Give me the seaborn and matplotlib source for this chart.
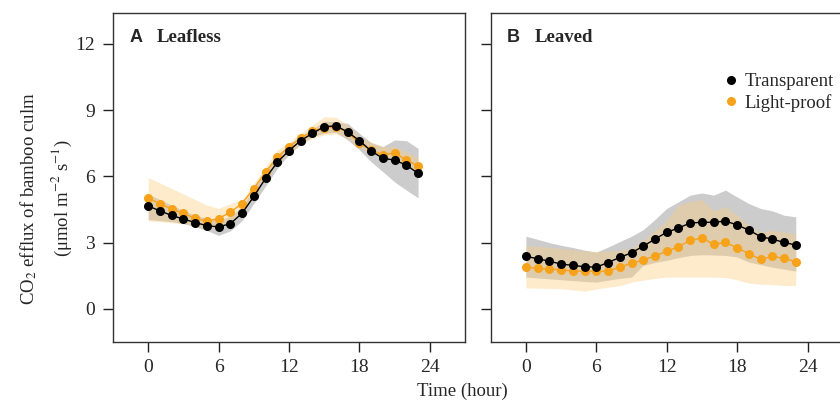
import numpy as np
import pandas as pd
import matplotlib
matplotlib.use("Agg")
import matplotlib.pyplot as plt
import seaborn as sns
from matplotlib.lines import Line2D

sns.set_style("ticks")
plt.rcParams['font.family'] = ['Liberation Serif', 'DejaVu Serif']
plt.rcParams['mathtext.fontset'] = 'stix'

hours = list(range(24))

# Panel A: Leafless
a_trans = [4.66, 4.44, 4.23, 4.07, 3.91, 3.77, 3.71, 3.86, 4.33, 5.09, 5.91, 6.64,
           7.17, 7.62, 7.95, 8.25, 8.29, 8.01, 7.62, 7.15, 6.82, 6.74, 6.51, 6.14]
a_trans_lo = [4.05, 4.00, 3.95, 3.86, 3.72, 3.55, 3.33, 3.53, 4.00, 4.77, 5.56, 6.36,
              7.00, 7.45, 7.80, 7.95, 8.00, 7.65, 7.20, 6.66, 6.21, 5.75, 5.38, 5.03]
a_trans_hi = [5.20, 4.95, 4.70, 4.45, 4.25, 4.10, 4.00, 4.20, 4.60, 5.50, 6.30, 6.97,
              7.45, 7.85, 8.15, 8.50, 8.48, 8.40, 7.95, 7.53, 7.35, 7.65, 7.62, 7.27]
a_proof = [5.03, 4.75, 4.53, 4.32, 4.10, 3.98, 4.09, 4.38, 4.77, 5.45, 6.20, 6.86,
           7.35, 7.73, 8.06, 8.20, 8.25, 8.00, 7.50, 7.20, 6.97, 7.07, 6.74, 6.47]
a_proof_lo = [3.98, 3.95, 3.90, 3.85, 3.78, 3.60, 3.75, 3.85, 4.35, 5.20, 5.90, 6.60,
              7.05, 7.50, 7.73, 7.88, 7.92, 7.73, 7.28, 7.05, 6.90, 6.80, 6.50, 6.20]
a_proof_hi = [5.95, 5.70, 5.45, 5.20, 4.95, 4.70, 4.55, 4.77, 4.95, 5.68, 6.44, 7.20,
              7.55, 7.95, 8.33, 8.70, 8.68, 8.33, 7.80, 7.55, 7.35, 7.35, 7.10, 6.85]

# Panel B: Leaved
b_trans = [2.38, 2.27, 2.16, 2.03, 1.97, 1.91, 1.89, 2.10, 2.33, 2.54, 2.84, 3.16,
           3.47, 3.66, 3.89, 3.92, 3.92, 3.98, 3.80, 3.57, 3.27, 3.16, 3.01, 2.89]
b_trans_lo = [1.44, 1.40, 1.36, 1.32, 1.28, 1.24, 1.21, 1.30, 1.38, 1.44, 1.97, 2.10,
              2.20, 2.32, 2.42, 2.45, 2.44, 2.42, 2.35, 2.12, 2.00, 1.89, 1.80, 1.71]
b_trans_hi = [3.29, 3.15, 3.00, 2.88, 2.78, 2.66, 2.57, 2.80, 3.05, 3.29, 3.59, 4.05,
              4.55, 4.85, 5.15, 5.25, 5.15, 5.38, 5.07, 4.77, 4.55, 4.44, 4.24, 4.17]
b_proof = [1.89, 1.83, 1.80, 1.77, 1.71, 1.71, 1.70, 1.71, 1.89, 2.07, 2.20, 2.41,
           2.60, 2.82, 3.10, 3.21, 2.92, 3.01, 2.77, 2.50, 2.24, 2.38, 2.29, 2.14]
b_proof_lo = [0.95, 0.94, 0.93, 0.91, 0.86, 0.80, 0.90, 0.98, 1.05, 1.21, 1.30, 1.38,
              1.44, 1.44, 1.44, 1.44, 1.44, 1.42, 1.32, 1.17, 1.12, 1.10, 1.06, 1.06]
b_proof_hi = [2.88, 2.83, 2.78, 2.73, 2.68, 2.63, 2.60, 2.62, 2.65, 2.75, 3.10, 3.55,
              4.00, 4.70, 4.85, 4.95, 4.44, 4.62, 4.24, 3.79, 3.48, 3.56, 3.48, 3.41]

series_names = ["Transparent", "Light-proof"]
panel_titles = [("A", "Leafless"), ("B", "Leaved")]
x_ticks = [0, 6, 12, 18, 24]
y_ticks = [0, 3, 6, 9, 12]

BLACK = "#000000"
ORANGE = "#F7A21B"
GRAY_BAND = "#C4C4C4"
ORANGE_BAND = (252/255, 205/255, 125/255)

fig = plt.figure(figsize=(8.4, 4.01), dpi=100)
W = 352 / 840
H = 329 / 401
B = (401 - 342) / 401
axA = fig.add_axes([113 / 840, B, W, H])
axB = fig.add_axes([490.7 / 840, B, W, H])

panels = [
    (axA, a_trans, a_trans_lo, a_trans_hi, a_proof, a_proof_lo, a_proof_hi),
    (axB, b_trans, b_trans_lo, b_trans_hi, b_proof, b_proof_lo, b_proof_hi),
]

for i, (ax, tr, trlo, trhi, pr, prlo, prhi) in enumerate(panels):
    ax.fill_between(hours, trlo, trhi, color=GRAY_BAND, alpha=0.85, lw=0, zorder=1)
    ax.fill_between(hours, prlo, prhi, color=ORANGE_BAND, alpha=0.4, lw=0, zorder=2)
    df = pd.DataFrame({
        "hour": hours * 2,
        "flux": pr + tr,
        "treat": [series_names[1]] * 24 + [series_names[0]] * 24,
    })
    sns.lineplot(data=df, x="hour", y="flux", hue="treat",
                 palette={series_names[0]: BLACK, series_names[1]: ORANGE},
                 marker="o", markersize=6.5, markeredgewidth=0, lw=1.0,
                 ax=ax, legend=False, zorder=3)
    ax.set_xlim(-3, 27)
    ax.set_ylim(-1.5, 13.4)
    ax.set_xticks(x_ticks)
    ax.set_yticks(y_ticks)
    ax.set_xlabel("")
    ax.set_ylabel("")
    ax.tick_params(axis="both", direction="out", length=7, width=1, color="#222222",
                   labelsize=14)
    ax.tick_params(axis="x", pad=5)
    ax.tick_params(axis="y", pad=6)
    for s in ax.spines.values():
        s.set_visible(True)
        s.set_linewidth(1.0)
        s.set_color("#333333")
    letter, name = panel_titles[i]
    ax.text(0.047, 0.925, letter, transform=ax.transAxes, fontsize=13,
            fontweight="bold", family="Liberation Sans", va="center", ha="left")
    ax.text(0.125, 0.925, name, transform=ax.transAxes, fontsize=13.5,
            fontweight="bold", va="center", ha="left")

axB.tick_params(axis="y", labelleft=False)

handles = [Line2D([], [], marker="o", color=BLACK, lw=0, markersize=6.5, markeredgewidth=0),
           Line2D([], [], marker="o", color=ORANGE, lw=0, markersize=6.5, markeredgewidth=0)]
axB.legend(handles, series_names, loc="upper left", bbox_to_anchor=(0.645, 0.84),
           frameon=False, fontsize=13.5, handlelength=0.6, handletextpad=0.45,
           labelspacing=0.2, borderaxespad=0)

fig.text(29 / 840, 0.505, "CO$_2$ efflux of bamboo culm", rotation=90,
         fontsize=13.5, ha="center", va="center")
fig.text(62 / 840, 0.505, "(μmol m$^{-2}$ s$^{-1}$)", rotation=90,
         fontsize=13.5, ha="center", va="center")
fig.text(462 / 840, (401 - 391) / 401, "Time (hour)", fontsize=13.5,
         ha="center", va="center")

fig.savefig("out.png", dpi=100)
